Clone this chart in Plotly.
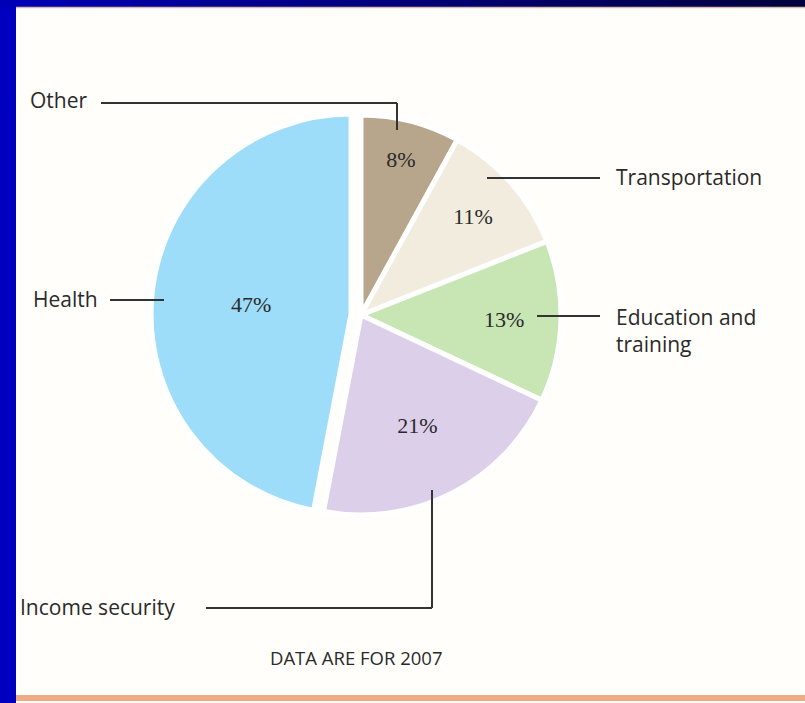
import plotly.graph_objects as go

categories = ["Other", "Transportation", "Education and training", "Income security", "Health"]
values = [8, 11, 13, 21, 47]
colors = ["#B8A68C", "#F1ECDD", "#C7E6B3", "#DCCFEA", "#9EDDF9"]
pulls = [0, 0, 0, 0, 0.05]
caption = "DATA ARE FOR 2007"

W, H = 805, 703

def px(x):
    return x / W

def py(y):
    return 1 - y / H

cx, cy, r = 361, 315, 200
half = r * (1 + max(pulls))

fig = go.Figure()
fig.add_trace(go.Pie(
    labels=categories,
    values=values,
    sort=False,
    direction="clockwise",
    rotation=0,
    pull=pulls,
    marker=dict(colors=colors, line=dict(color="white", width=5)),
    texttemplate="%{value}%",
    textposition="inside",
    insidetextorientation="horizontal",
    textfont=dict(family="Liberation Serif", size=22, color="#2a2a2a"),
    hoverinfo="label+percent",
    showlegend=False,
    domain=dict(x=[px(cx - half), px(cx + half)], y=[py(cy + half), py(cy - half)]),
))

shapes = []
# left blue bar
shapes.append(dict(type="rect", xref="paper", yref="paper", x0=0, x1=px(16), y0=0, y1=1,
                   fillcolor="#0000BE", line=dict(width=0), layer="above"))
# top gradient bar
n = 24
c0 = (0x00, 0x00, 0xB4)
c1 = (0x00, 0x00, 0x40)
for i in range(n):
    t = i / (n - 1)
    col = "rgb(%d,%d,%d)" % tuple(int(a + (b - a) * t) for a, b in zip(c0, c1))
    shapes.append(dict(type="rect", xref="paper", yref="paper",
                       x0=i / n, x1=(i + 1) / n + 0.002, y0=py(7), y1=1,
                       fillcolor=col, line=dict(width=0), layer="above"))
# thin line under top bar
shapes.append(dict(type="line", xref="paper", yref="paper", x0=px(16), x1=1, y0=py(7.5), y1=py(7.5),
                   line=dict(color="#D9BBAE", width=1.5), layer="above"))
# orange bottom band
shapes.append(dict(type="rect", xref="paper", yref="paper", x0=px(16), x1=1, y0=py(701), y1=py(695),
                   fillcolor="#EFAA84", line=dict(width=0), layer="above"))

lc = dict(color="#333333", width=2)
def seg(x0, y0, x1, y1):
    shapes.append(dict(type="line", xref="paper", yref="paper", x0=px(x0), y0=py(y0),
                       x1=px(x1), y1=py(y1), line=lc, layer="above"))

# leader lines
seg(101, 103, 397, 103); seg(397, 103, 397, 130)          # Other
seg(487, 178, 600, 178)                                     # Transportation
seg(537, 316, 600, 316)                                     # Education
seg(110, 300, 164, 300)                                     # Health
seg(206, 608, 432, 608); seg(432, 608, 432, 490)            # Income security

lab_font = dict(family="Open Sans", size=21, color="#2a2a2a")
annotations = []
def lab(text, x, y, anchor="left"):
    annotations.append(dict(text=text, x=px(x), y=py(y), xref="paper", yref="paper",
                            xanchor=anchor, yanchor="middle", showarrow=False, font=lab_font, align="left"))

lab(categories[0], 28, 100)
lab(categories[1], 614, 177)
lab("Education and<br>training", 614, 330)
lab(categories[4], 31, 299)
lab(categories[3], 18, 607)
annotations.append(dict(text=caption, x=px(356), y=py(657), xref="paper", yref="paper",
                        xanchor="center", yanchor="middle", showarrow=False,
                        font=dict(family="Open Sans", size=18.5, color="#2a2a2a")))

fig.update_layout(
    width=W, height=H,
    margin=dict(l=0, r=0, t=0, b=0),
    paper_bgcolor="#FFFEFB",
    plot_bgcolor="#FFFEFB",
    shapes=shapes,
    annotations=annotations,
)

fig.write_html("out.html")
